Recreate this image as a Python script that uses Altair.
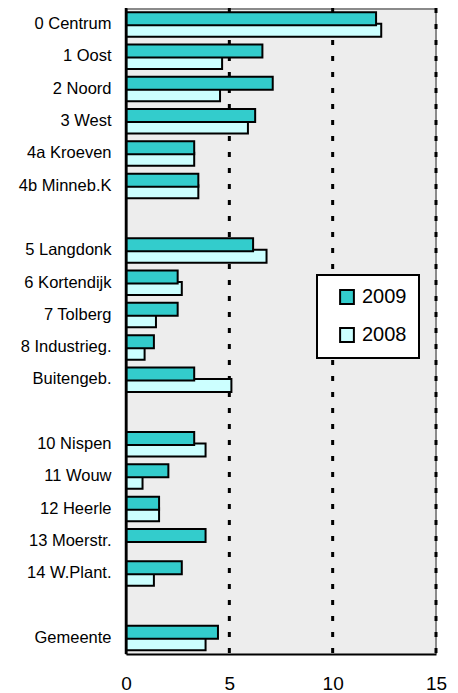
import altair as alt
import pandas as pd

categories = [
    "0 Centrum", "1 Oost", "2 Noord", "3 West", "4a Kroeven", "4b Minneb.K", " ",
    "5 Langdonk", "6 Kortendijk", "7 Tolberg", "8 Industrieg.", "Buitengeb.", "  ",
    "10 Nispen", "11 Wouw", "12 Heerle", "13 Moerstr.", "14 W.Plant.", "   ",
    "Gemeente",
]
values_2009 = [12.1, 6.6, 7.1, 6.25, 3.3, 3.5, None,
               6.15, 2.5, 2.5, 1.35, 3.3, None,
               3.3, 2.05, 1.6, 3.85, 2.7, None,
               4.45]
values_2008 = [12.35, 4.65, 4.55, 5.9, 3.3, 3.5, None,
               6.8, 2.7, 1.45, 0.9, 5.1, None,
               3.85, 0.8, 1.6, None, 1.35, None,
               3.85]
years = ["2009", "2008"]
colors = ["#33CCCC", "#CCFFFF"]
x_ticks = [0, 5, 10, 15]
grid_values = [5, 10, 15]
x_min = [0]
x_max = [15]

rows = []
for cat, a, b in zip(categories, values_2009, values_2008):
    if a is not None:
        rows.append({"gebied": cat, "jaar": "2009", "waarde": a})
    if b is not None:
        rows.append({"gebied": cat, "jaar": "2008", "waarde": b})
df = pd.DataFrame(rows)
grid_df = pd.DataFrame({"waarde": grid_values})
edge_df = pd.DataFrame({"waarde": x_max})
zero_df = pd.DataFrame({"waarde": x_min})

FONT = "Liberation Sans"

y_enc = alt.Y(
    "gebied:N",
    scale=alt.Scale(domain=categories, paddingInner=0, paddingOuter=0),
    axis=alt.Axis(title=None, ticks=False, domain=True, zindex=2,
                  labelPadding=15, labelFontSize=16.5,
                  labelColor="black", labelFont=FONT, domainColor="black",
                  domainWidth=2, labelLimit=300),
)
x_enc = alt.X(
    "waarde:Q",
    scale=alt.Scale(domain=[0, 15], nice=False),
    axis=alt.Axis(title=None, values=x_ticks, ticks=False, labelFlush=False,
                  labelPadding=20, labelFontSize=19, labelFont=FONT,
                  labelColor="black", grid=False, domain=True, zindex=2,
                  domainColor="black", domainWidth=2),
)
color_enc = alt.Color(
    "jaar:N",
    scale=alt.Scale(domain=years, range=colors),
    legend=alt.Legend(title=None, orient="none", legendX=191, legendY=267,
                      symbolType="square", symbolSize=190,
                      symbolStrokeColor="black", symbolStrokeWidth=2,
                      labelFontSize=20, labelFont=FONT, labelColor="black",
                      padding=12, rowPadding=16, fillColor="white",
                      strokeColor="black", symbolOffset=8, labelOffset=5),
)

# plot-area frame (top and right edges in grey)
top_edge = alt.Chart(edge_df).mark_rule(color="#8A8A8A", strokeWidth=2).encode(
    y=alt.value(1)
)
right_edge = alt.Chart(edge_df).mark_rule(color="#8A8A8A", strokeWidth=2).encode(
    x=x_enc
)
# dotted gridlines
grid = alt.Chart(grid_df).mark_rule(
    color="black", strokeWidth=3, strokeDash=[5, 11]
).encode(x=x_enc)

base = alt.Chart(df)
bars_2008 = base.transform_filter("datum.jaar == '2008' && datum.waarde > 0").mark_bar(
    height=13, yOffset=6, stroke="black", strokeWidth=2
).encode(x=x_enc, y=y_enc, color=color_enc)
bars_2009 = base.transform_filter("datum.jaar == '2009' && datum.waarde > 0").mark_bar(
    height=13, yOffset=-5.5, stroke="black", strokeWidth=2
).encode(x=x_enc, y=y_enc, color=color_enc)
# left axis line
zero_line = alt.Chart(zero_df).mark_rule(color="black", strokeWidth=2.5).encode(
    x=x_enc
)

chart = alt.layer(top_edge, right_edge, grid, bars_2008, bars_2009, zero_line).properties(
    width=310, height=646,
    autosize=alt.AutoSizeParams(type="none"),
    padding={"left": 118, "top": 0, "right": 14, "bottom": 38},
).configure_view(
    fill="#EDEDED", stroke=None
).configure_legend(strokeWidth=2)

chart.save("out.html", embed_options={"renderer": "svg", "actions": False})
